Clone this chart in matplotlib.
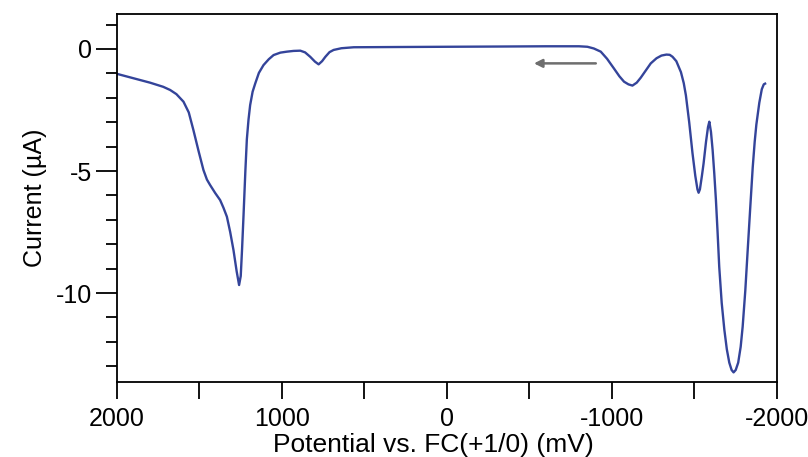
import numpy as np
import matplotlib
matplotlib.use('Agg')
import matplotlib.pyplot as plt

# potential (mV) and current (uA)
potential = [2000, 1900, 1800, 1720, 1678, 1640, 1597, 1565, 1537, 1505,
             1476, 1455, 1436, 1405, 1375, 1355, 1334, 1314, 1294, 1275,
             1260, 1250, 1242, 1233, 1222, 1213, 1203, 1193, 1178, 1162,
             1140, 1112, 1080, 1051, 1010, 970, 930, 889, 860, 829,
             800, 778, 757, 737, 712, 687, 640, 565, 300, 0,
             -325, -600, -800, -851, -890, -932, -970, -1012, -1045, -1073,
             -1100, -1124, -1150, -1174, -1205, -1235, -1270, -1300, -1330, -1350,
             -1367, -1390, -1418, -1435, -1448, -1468, -1488, -1505, -1518, -1525,
             -1533, -1545, -1555, -1570, -1582, -1590, -1600, -1610, -1620, -1630,
             -1640, -1650, -1665, -1681, -1696, -1711, -1725, -1737, -1750, -1765,
             -1780, -1792, -1808, -1822, -1838, -1853, -1865, -1875, -1893, -1908,
             -1920, -1928]
current = [-1.02, -1.2, -1.38, -1.55, -1.68, -1.85, -2.16, -2.6, -3.32, -4.2,
           -4.96, -5.35, -5.57, -5.9, -6.19, -6.5, -6.87, -7.5, -8.24, -9.1,
           -9.67, -9.3, -8.2, -6.8, -5.0, -3.7, -2.9, -2.3, -1.75, -1.41,
           -0.98, -0.66, -0.42, -0.25, -0.15, -0.11, -0.08, -0.07, -0.14, -0.32,
           -0.52, -0.63, -0.5, -0.32, -0.13, -0.04, 0.03, 0.07, 0.08, 0.09,
           0.1, 0.11, 0.11, 0.09, 0.02, -0.11, -0.4, -0.8, -1.12, -1.34,
           -1.45, -1.5, -1.38, -1.18, -0.88, -0.59, -0.38, -0.27, -0.23, -0.24,
           -0.32, -0.5, -0.95, -1.4, -1.9, -3.0, -4.27, -5.2, -5.75, -5.89,
           -5.75, -5.2, -4.7, -3.8, -3.2, -2.98, -3.4, -4.14, -5.1, -6.19,
           -7.5, -8.92, -10.4, -11.5, -12.3, -12.85, -13.15, -13.25, -13.15, -12.85,
           -12.2, -11.38, -9.9, -8.3, -6.5, -4.85, -3.8, -3.1, -2.2, -1.65,
           -1.45, -1.42]

# scan direction arrow
arrow_from = (-902, -0.59)
arrow_to = (-527, -0.59)

plt.rcParams['font.family'] = ['Liberation Sans', 'DejaVu Sans']
plt.rcParams['axes.unicode_minus'] = False
fontSize = 18

fig = plt.figure(figsize=(8.08, 4.57), dpi=100)
ax = fig.add_axes([0.1448, 0.1648, 0.8168, 0.8039])

ax.plot(potential, current, color='#34449a', linewidth=1.7,
        solid_joinstyle='round')
ax.annotate('', xy=arrow_to, xytext=arrow_from,
            arrowprops=dict(arrowstyle='-|>', color='#6e6e6e', lw=1.8,
                            mutation_scale=12, shrinkA=0, shrinkB=0))

ax.set_xlim(2000, -2000)
ax.set_ylim(-13.63, 1.42)
ax.set_xticks([2000, 1000, 0, -1000, -2000])
ax.set_xticks([1500, 500, -500, -1500], minor=True)
ax.set_yticks([0, -5, -10])
ax.set_yticks([1, -1, -2, -3, -4, -6, -7, -8, -9, -11, -12, -13], minor=True)

ax.tick_params(axis='x', which='both', length=12, width=1.3, direction='out',
               labelsize=fontSize, pad=6)
ax.tick_params(axis='y', which='major', length=15, width=1.3, direction='out',
               labelsize=fontSize, pad=3)
ax.tick_params(axis='y', which='minor', length=8, width=1.3, direction='out')
for s in ax.spines.values():
    s.set_linewidth(1.3)

ax.set_xlabel('Potential vs. FC(+1/0) (mV)', fontsize=19, labelpad=0)
ax.xaxis.set_label_coords(0.479, -0.14)
ax.set_ylabel('Current (\u00b5A)', fontsize=fontSize, labelpad=6)

fig.savefig('out.png', dpi=100)
